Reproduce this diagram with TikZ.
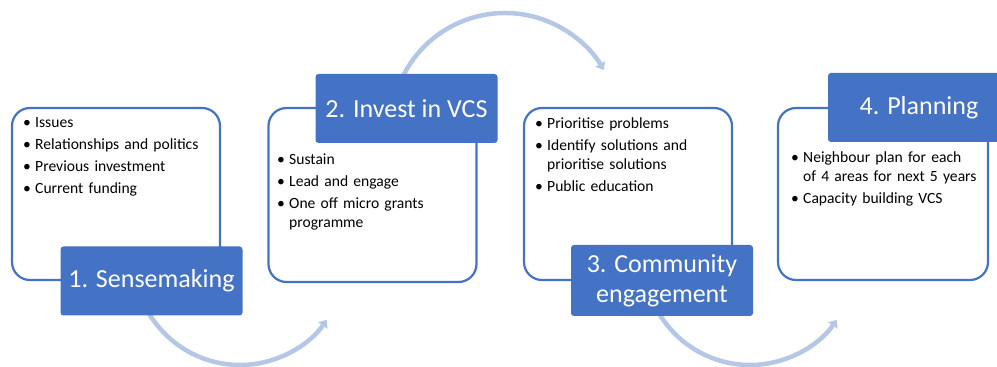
\documentclass[tikz,border=0pt]{standalone}
\usepackage{fontspec}
\setmainfont{Carlito}
\usetikzlibrary{arrows.meta}

\definecolor{stageblue}{HTML}{4472C4}
\definecolor{arclight}{HTML}{B4C7E7}

% bullet point with the dot hanging in the left margin
\newcommand{\bitem}[1]{\noindent\llap{\makebox[12pt][l]{\textbullet}}#1\par\vspace{3pt}}

\tikzset{
    panel/.style={draw=stageblue, line width=2.2pt, rounded corners=18pt, fill=white,
        minimum width=208pt, minimum height=172pt},
    stage/.style={fill=stageblue, text=white, rounded corners=3pt, align=center,
        minimum width=182pt, minimum height=69pt, font=\fontsize{26}{30}\selectfont},
    points/.style={anchor=north west, inner sep=0pt, text width=190pt, align=left,
        font=\fontsize{15.6}{19}\selectfont, execute at begin node={\leftskip=12pt\relax}},
    cycle arc/.style={arclight, line width=4.5pt, -{Triangle[width=11pt,length=7pt]}}
}

\begin{document}
\begin{tikzpicture}[x=1pt, y=1pt]
    \useasboundingbox (0,0) rectangle (997,367);

    % arcs between the stages
    \coordinate (hub1) at (240,108);
    \coordinate (hub2) at (505,240);
    \coordinate (hub3) at (750,108);
    \draw[cycle arc] ([shift={(190:106)}]hub1) arc[start angle=190, end angle=325, radius=106];
    \draw[cycle arc] ([shift={(155:114)}]hub2) arc[start angle=155, end angle=30, radius=114];
    \draw[cycle arc] ([shift={(190:106)}]hub3) arc[start angle=190, end angle=325, radius=106];

    % panels
    \node[panel] (box1) at (116,173) {};
    \node[panel, minimum height=174pt] (box2) at (372.5,172) {};
    \node[panel] (box3) at (628,173) {};
    \node[panel, minimum width=210pt] (box4) at (883,173) {};

    \node[points] (list1) at (23,250) {
        \bitem{Issues}
        \bitem{Relationships and politics}
        \bitem{Previous investment}
        \bitem{Current funding}};
    \node[points] (list2) at (277,213) {
        \bitem{Sustain}
        \bitem{Lead and engage}
        \bitem{One off micro grants\newline programme}};
    \node[points] (list3) at (535,250) {
        \bitem{Prioritise problems}
        \bitem{Identify solutions and\newline prioritise solutions}
        \bitem{Public education}};
    \node[points] (list4) at (791,216) {
        \bitem{Neighbour plan for each\newline of 4 areas for next 5 years}
        \bitem{Capacity building VCS}};

    % stage labels
    \node[stage] (stage1) at (151.5,86) {1. Sensemaking};
    \node[stage] (stage2) at (406.5,258.5) {2. Invest in VCS};
    \node[stage, minimum height=71pt] (stage3) at (662,86.5) {3. Community\\engagement};
    \node[stage] (stage4) at (919,259.5) {4. Planning};
\end{tikzpicture}
\end{document}
